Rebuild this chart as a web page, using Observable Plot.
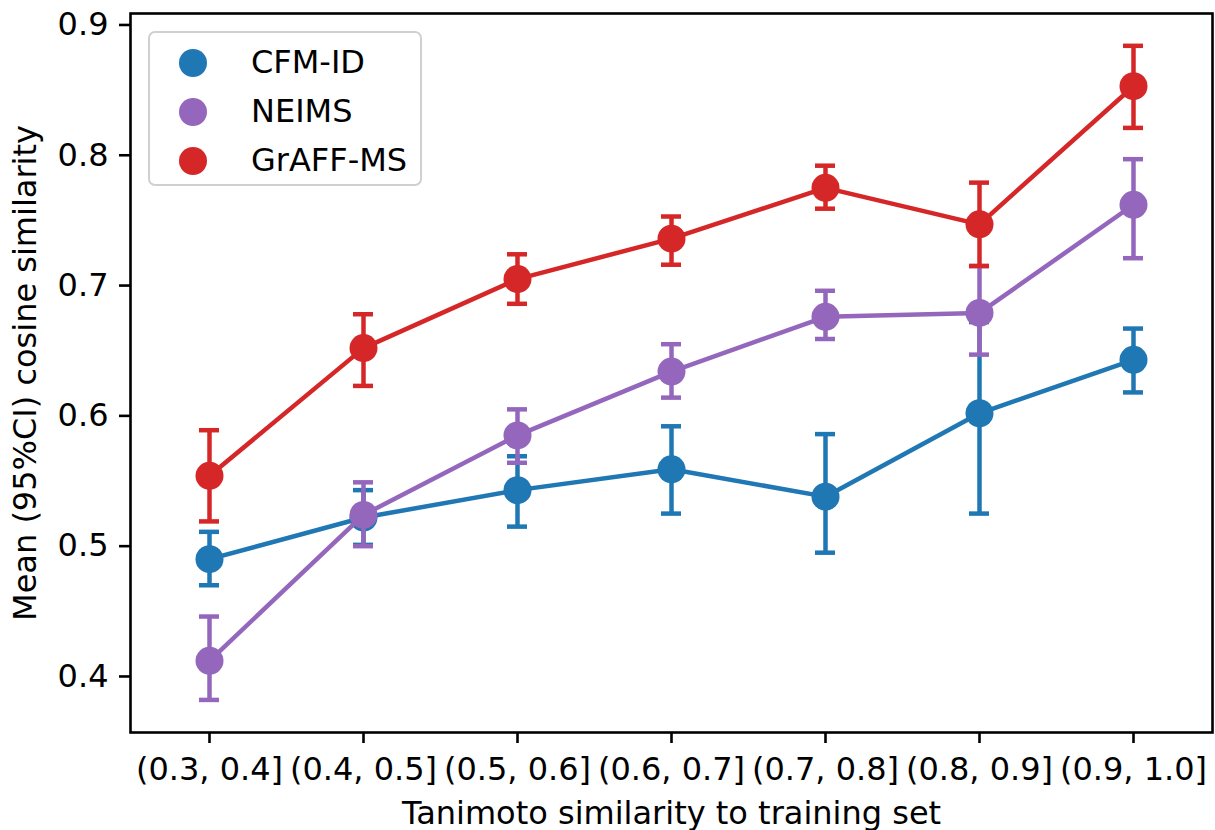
<!DOCTYPE html>
<html>
<head>
<meta charset="utf-8">
<script src="https://cdn.jsdelivr.net/npm/d3@7"></script>
<script src="https://cdn.jsdelivr.net/npm/@observablehq/plot@0.6"></script>
<style>
  html, body { margin: 0; padding: 0; background: #fff; }
  #wrap { position: relative; width: 1215px; height: 830px; overflow: hidden; font-family: "DejaVu Sans", sans-serif; }
  #legend { position: absolute; left: 148px; top: 31px; width: 274px; height: 155px; box-sizing: border-box;
            border: 2.6px solid #d0d0d0; border-radius: 7px; background: rgba(255,255,255,0.85); }
  .item { position: absolute; left: 0; height: 40px; }
  .sw { position: absolute; left: 29px; width: 28px; height: 28px; border-radius: 50%; }
  .lb { position: absolute; left: 101px; font-size: 32px; line-height: 32px; color: #000; white-space: nowrap; }
</style>
</head>
<body>
<div id="wrap"><div id="chart"></div><div id="legend"></div></div>
<script>
const categories = ["(0.3, 0.4]", "(0.4, 0.5]", "(0.5, 0.6]", "(0.6, 0.7]", "(0.7, 0.8]", "(0.8, 0.9]", "(0.9, 1.0]"];
const methods = ["CFM-ID", "NEIMS", "GrAFF-MS"];
const colors = ["#1f77b4", "#9467bd", "#d62728"];

const cfmMean = [0.490, 0.522, 0.543, 0.559, 0.538, 0.602, 0.643];
const cfmLo   = [0.470, 0.501, 0.515, 0.525, 0.495, 0.525, 0.618];
const cfmHi   = [0.511, 0.543, 0.569, 0.592, 0.586, 0.672, 0.667];

const neimsMean = [0.412, 0.524, 0.585, 0.634, 0.676, 0.679, 0.762];
const neimsLo   = [0.382, 0.500, 0.564, 0.614, 0.659, 0.647, 0.721];
const neimsHi   = [0.446, 0.549, 0.605, 0.655, 0.696, 0.715, 0.797];

const graffMean = [0.554, 0.652, 0.705, 0.736, 0.775, 0.747, 0.853];
const graffLo   = [0.519, 0.623, 0.686, 0.716, 0.759, 0.715, 0.821];
const graffHi   = [0.589, 0.678, 0.724, 0.753, 0.792, 0.779, 0.884];

const yTicks = [0.4, 0.5, 0.6, 0.7, 0.8, 0.9];
const xLabel = "Tanimoto similarity to training set";
const yLabel = "Mean (95%CI) cosine similarity";

const series = [
  [cfmMean, cfmLo, cfmHi],
  [neimsMean, neimsLo, neimsHi],
  [graffMean, graffLo, graffHi]
];

const font = "DejaVu Sans, sans-serif";
const marks = [];
series.forEach(([m, lo, hi], si) => {
  const rows = categories.map((c, i) => ({cat: c, mean: m[i], lo: lo[i], hi: hi[i], method: methods[si]}));
  const col = colors[si];
  marks.push(Plot.ruleX(rows, {x: "cat", y1: "lo", y2: "hi", stroke: col, strokeWidth: 4.5}));
  marks.push(Plot.tickY(rows, {x: "cat", y: "lo", stroke: col, strokeWidth: 4.5}));
  marks.push(Plot.tickY(rows, {x: "cat", y: "hi", stroke: col, strokeWidth: 4.5}));
  marks.push(Plot.line(rows, {x: "cat", y: "mean", stroke: col, strokeWidth: 4.5}));
  marks.push(Plot.dot(rows, {x: "cat", y: "mean", fill: col, r: 14, stroke: "none"}));
});

const pi = 0.8706;
const chart = Plot.plot({
  width: 1215,
  height: 830,
  marginTop: 13,
  marginBottom: 98,
  marginLeft: 130,
  marginRight: 3,
  style: {fontFamily: font, background: "#fff", color: "#000"},
  x: {type: "band", domain: categories, paddingInner: pi, paddingOuter: pi / 2},
  y: {domain: [0.357, 0.9088]},
  marks: [
    Plot.axisY({ticks: yTicks, tickFormat: d3.format(".1f"), tickSize: 11, tickPadding: 11, fontSize: 32, strokeWidth: 2.6, label: null}),
    Plot.axisX({tickSize: 11, tickPadding: 14, fontSize: 32, strokeWidth: 2.6, label: null}),
    ...marks,
    Plot.frame({stroke: "#000", strokeWidth: 2.6}),
    Plot.text([xLabel], {frameAnchor: "bottom", dy: 91, fontSize: 32, text: d => d}),
    Plot.text([yLabel], {frameAnchor: "left", textAnchor: "middle", dx: -105, rotate: -90, fontSize: 32, text: d => d})
  ]
});
document.getElementById("chart").appendChild(chart);

const legend = document.getElementById("legend");
methods.forEach((m, i) => {
  const it = document.createElement("div");
  it.className = "item";
  it.style.top = (13 + i * 49) + "px";
  const sw = document.createElement("div");
  sw.className = "sw";
  sw.style.background = colors[i];
  sw.style.top = "3px";
  const lb = document.createElement("div");
  lb.className = "lb";
  lb.style.top = "0px";
  lb.textContent = m;
  it.appendChild(sw); it.appendChild(lb);
  legend.appendChild(it);
});
</script>
</body>
</html>
